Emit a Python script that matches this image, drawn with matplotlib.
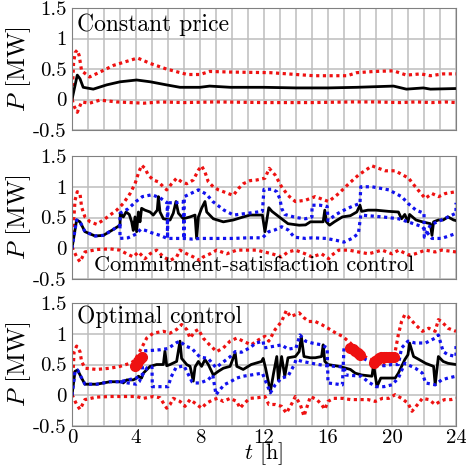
import matplotlib
matplotlib.use("Agg")
import matplotlib.pyplot as plt
import numpy as np

plt.rcParams['font.family'] = ['cmr10', 'DejaVu Serif']
plt.rcParams['mathtext.fontset'] = 'cm'
plt.rcParams['axes.unicode_minus'] = False

# ---- panel 1: constant price ----
t1_mean = [0, 0.33, 0.5, 0.7, 1.33, 2.17, 3.0, 4.04, 4.9, 5.9, 6.75, 8.0, 8.6, 9.9,
           12.0, 14.0, 16.0, 17.8, 20.1, 20.9, 21.96, 22.4, 24.0]
p1_mean = [0.0, 0.40, 0.34, 0.2, 0.17, 0.24, 0.29, 0.32, 0.29, 0.24, 0.2, 0.2, 0.22, 0.2,
           0.2, 0.19, 0.19, 0.2, 0.22, 0.17, 0.19, 0.17, 0.18]
t1_up = [0, 0.1, 0.2, 0.33, 0.45, 0.6, 1.1, 1.75, 2.6, 3.6, 4.1, 4.9, 5.9, 7.2, 8.0, 8.6, 9.9,
         12.4, 15.1, 17.2, 17.8, 18.9, 20.1, 20.9, 21.8, 22.4, 23.2, 24.0]
p1_up = [0.0, 0.6, 0.77, 0.81, 0.72, 0.47, 0.37, 0.45, 0.56, 0.64, 0.68, 0.59, 0.5, 0.41, 0.41,
         0.46, 0.45, 0.44, 0.39, 0.39, 0.44, 0.46, 0.47, 0.40, 0.42, 0.39, 0.42, 0.42]
t1_lo = [0, 0.15, 0.33, 0.6, 1.1, 1.75, 2.8, 4.5, 5.5, 7.0, 9.0, 12.0, 15.0, 17.5, 19.0,
         20.5, 21.5, 22.5, 23.3, 24.0]
p1_lo = [0.0, -0.12, -0.21, -0.04, -0.06, -0.01, -0.04, -0.06, -0.04, -0.05, -0.04, -0.05,
         -0.05, -0.04, -0.04, -0.05, -0.04, -0.05, -0.04, -0.05]

# ---- panel 2: commitment-satisfaction control ----
t2_mean = [0, 0.29, 0.5, 0.81, 1.44, 1.96, 2.48, 3.0, 3.02, 3.21, 3.38, 3.58, 3.73, 3.83,
           3.94, 4.04, 4.15, 4.25, 4.35, 4.56, 4.88, 5.08, 5.33, 5.4, 5.5, 5.71, 6.13, 6.33,
           6.5, 6.65, 6.96, 7.38, 7.69, 7.79, 7.9, 8.1, 8.31, 8.42, 8.83, 9.46, 10.08, 10.71,
           11.13, 11.9, 12.06, 12.3, 12.5, 12.8, 13.1, 13.5, 14.2, 14.6, 14.9, 15.2, 15.7,
           15.8, 15.9, 16.1, 16.4, 16.9, 17.4, 17.8, 18.0, 18.1, 18.5, 19.0, 19.8, 20.4,
           20.6, 20.8, 21.0, 21.1, 21.5, 21.9, 22.4, 22.5, 22.6, 22.9, 23.2, 23.5, 23.85, 24.0]
p2_mean = [0.0, 0.46, 0.43, 0.27, 0.2, 0.21, 0.29, 0.375, 0.57, 0.51, 0.59, 0.55, 0.43, 0.29,
           0.51, 0.27, 0.59, 0.43, 0.65, 0.62, 0.59, 0.54, 0.62, 0.84, 0.59, 0.48, 0.46, 0.57,
           0.76, 0.57, 0.48, 0.51, 0.54, 0.16, 0.51, 0.65, 0.76, 0.59, 0.48, 0.43, 0.46, 0.51,
           0.54, 0.54, 0.27, 0.66, 0.6, 0.54, 0.48, 0.4, 0.375, 0.38, 0.43, 0.43, 0.43,
           0.62, 0.43, 0.375, 0.43, 0.51, 0.53, 0.59, 0.7, 0.6, 0.62, 0.62, 0.6, 0.59,
           0.48, 0.55, 0.43, 0.55, 0.46, 0.43, 0.4, 0.21, 0.43, 0.46, 0.46, 0.51, 0.46, 0.45]
t2_up = [0, 0.19, 0.33, 0.5, 0.6, 0.81, 1.13, 1.54, 1.96, 2.38, 2.79, 3.21, 3.63, 3.94, 4.15,
         4.35, 4.56, 4.77, 5.08, 5.4, 5.71, 5.92, 6.23, 6.54, 6.85, 7.17, 7.58, 7.9, 8.1, 8.31,
         8.52, 8.83, 9.15, 9.46, 9.77, 10.08, 10.4, 10.71, 11.13, 11.54, 12.06, 12.33, 12.7,
         13.1, 13.5, 13.96, 14.58, 15.2, 16.04, 16.67, 17.3, 17.9, 18.75, 19.58, 20.2, 21.04,
         21.46, 22.08, 22.5, 22.92, 23.33, 24.0]
p2_up = [0.02, 0.78, 0.92, 0.89, 0.67, 0.51, 0.43, 0.39, 0.46, 0.54, 0.62, 0.73, 0.89, 1.05,
         1.22, 1.35, 1.3, 1.19, 1.11, 1.08, 1.0, 0.95, 1.05, 1.14, 1.08, 1.05, 1.11, 1.27, 1.34,
         1.24, 1.08, 1.0, 0.95, 0.92, 0.89, 0.86, 0.97, 1.05, 1.1, 1.11, 1.14, 1.3, 1.19, 1.0,
         0.86, 0.76, 0.78, 0.84, 0.76, 0.89, 1.05, 1.19, 1.34, 1.26, 1.26, 1.14, 1.0, 0.81,
         0.89, 0.84, 0.89, 0.92]
t2_lo = [0, 0.29, 0.5, 0.81, 1.54, 2.38, 3.0, 3.42, 3.83, 4.15, 4.56, 4.88, 5.29, 5.71, 6.13,
         6.54, 6.75, 7.17, 7.58, 8.0, 8.21, 8.63, 9.04, 9.67, 10.3, 10.9, 11.54, 12.5, 13.1,
         13.5, 13.96, 14.58, 15.0, 15.6, 16.04, 16.25, 16.67, 17.3, 17.9, 18.54, 18.96, 19.38,
         20.0, 20.42, 21.04, 21.46, 22.08, 22.7, 23.1, 23.75, 24.0]
p2_lo = [0.02, -0.14, -0.22, -0.06, -0.02, -0.01, -0.03, -0.09, -0.14, -0.06, -0.17, -0.09,
         -0.03, -0.14, -0.2, -0.14, -0.03, -0.09, -0.14, -0.2, -0.14, -0.09, -0.03, -0.09,
         -0.03, -0.03, -0.03, -0.09, -0.14, -0.06, -0.03, -0.09, -0.14, -0.09, -0.17, -0.11,
         -0.03, -0.03, -0.06, -0.09, -0.06, -0.03, -0.09, -0.03, -0.11, -0.09, -0.03, -0.06,
         -0.03, -0.05, -0.06]
t2_bA = [0, 0.29, 0.5, 0.81, 1.44, 1.96, 2.48, 3.0, 3.0, 3.5, 4.0, 4.4, 5.0, 5.5, 5.95, 5.97,
         6.0, 6.5, 6.95, 7.0, 7.02, 7.5, 7.9, 8.4, 8.8, 9.5, 10.1, 11.0, 11.9, 12.0, 12.5, 12.8,
         13.0, 13.1, 13.3, 14.0, 14.6, 15.0, 15.0, 15.5, 15.95, 16.0, 16.5, 17.0, 17.5, 18.0,
         18.05, 18.75, 19.8, 20.6, 21.0, 21.5, 22.0, 22.02, 22.4, 23.1, 24.0, 24.0]
p2_bA = [0.0, 0.46, 0.43, 0.27, 0.2, 0.21, 0.29, 0.375, 0.57, 0.64, 0.76, 0.84, 0.87, 0.82,
         0.74, 0.16, 0.74, 0.74, 0.76, 0.16, 0.84, 0.9, 0.95, 0.88, 0.76, 0.62, 0.54, 0.57,
         0.6, 0.96, 0.96, 0.92, 0.8, 0.65, 0.55, 0.5, 0.48, 0.51, 0.7, 0.7, 0.68, 0.45, 0.55,
         0.62, 0.68, 0.73, 1.0, 1.0, 0.95, 0.84, 0.73, 0.62, 0.57, 0.18, 0.38, 0.46, 0.57, 0.74]
t2_bB = [3.0, 3.0, 3.5, 4.0, 4.3, 4.6, 5.0, 5.5, 5.95, 6.5, 7.0, 7.5, 8.0, 9.0, 10.1, 10.1,
         11.0, 11.9, 11.9, 12.3, 12.7, 13.1, 13.5, 13.9, 14.6, 15.0, 15.9, 16.5, 17.0, 17.5,
         17.9, 18.05, 19.4, 20.4, 21.0, 21.9, 22.5, 23.1, 24.0]
p2_bB = [0.375, 0.16, 0.17, 0.23, 0.31, 0.29, 0.25, 0.21, 0.16, 0.16, 0.16, 0.15, 0.16, 0.16,
         0.16, 0.16, 0.17, 0.17, 0.17, 0.27, 0.3, 0.35, 0.3, 0.18, 0.16, 0.17, 0.16, 0.13,
         0.1, 0.16, 0.24, 0.54, 0.51, 0.48, 0.43, 0.35, 0.16, 0.16, 0.24]

# ---- panel 3: optimal control ----
t3_mean = [0, 0.19, 0.35, 0.6, 0.81, 1.54, 2.38, 3.1, 3.2, 3.42, 3.83, 4.04, 4.15, 4.35, 4.46,
           4.88, 5.29, 5.71, 5.81, 5.92, 6.13, 6.54, 6.75, 6.85, 7.17, 7.38, 7.58, 7.69, 7.9,
           8.1, 8.31, 8.52, 8.83, 9.15, 9.46, 9.88, 10.2, 10.3, 10.7, 11.2, 11.85, 11.95, 12.1,
           12.4, 12.6, 12.8, 12.9, 13.1, 13.3, 13.5, 13.96, 14.2, 14.33, 14.5, 14.9, 15.2,
           15.6, 15.7, 15.8, 16.0, 16.7, 17.4, 17.7, 18.1, 18.75, 18.85, 19.06, 19.3, 19.8,
           20.2, 20.4, 20.8, 21.0, 21.1, 21.35, 21.7, 22.1, 22.6, 22.7, 22.9, 23.2, 23.5, 24.0]
p3_mean = [0.0, 0.39, 0.41, 0.28, 0.18, 0.18, 0.22, 0.22, 0.2, 0.25, 0.25, 0.28, 0.31, 0.28,
           0.36, 0.47, 0.5, 0.5, 0.72, 0.48, 0.5, 0.55, 0.88, 0.6, 0.5, 0.47, 0.23, 0.46, 0.55,
           0.47, 0.58, 0.5, 0.33, 0.39, 0.44, 0.47, 0.69, 0.47, 0.42, 0.5, 0.55, 0.6, 0.44,
           0.06, 0.36, 0.63, 0.25, 0.63, 0.31, 0.61, 0.63, 0.71, 0.96, 0.63, 0.61, 0.61, 0.63,
           0.82, 0.55, 0.5, 0.47, 0.42, 0.36, 0.33, 0.31, 0.5, 0.14, 0.28, 0.28, 0.28, 0.36,
           0.58, 0.66, 0.85, 0.63, 0.58, 0.52, 0.47, 0.17, 0.63, 0.55, 0.52, 0.5]
t3_up = [0, 0.13, 0.29, 0.5, 0.6, 0.81, 1.54, 2.38, 3.0, 3.63, 3.83, 4.0, 4.35, 4.67, 5.08,
         5.71, 6.13, 6.54, 6.85, 7.17, 7.38, 7.69, 7.9, 8.2, 8.6, 9.04, 9.46, 9.88, 10.3, 10.7,
         11.2, 11.65, 12.06, 12.3, 12.7, 13.1, 13.4, 13.65, 13.96, 14.2, 14.5, 14.8, 15.2,
         15.6, 16.0, 16.5, 16.9, 17.4, 17.9, 18.5, 18.96, 19.4, 19.8, 20.2, 20.4, 20.6, 20.8,
         21.0, 21.46, 21.9, 22.3, 22.7, 22.9, 23.1, 23.5, 24.0]
p3_up = [0.01, 0.71, 0.8, 0.71, 0.55, 0.44, 0.42, 0.44, 0.47, 0.52, 0.55, 0.6, 0.77, 0.93,
         1.01, 1.04, 1.01, 1.07, 1.15, 1.07, 0.93, 1.04, 1.07, 0.93, 0.82, 0.71, 0.77, 0.88,
         0.93, 0.88, 0.82, 0.9, 0.96, 0.88, 1.07, 1.2, 1.38, 1.28, 1.31, 1.34, 1.26, 1.2, 1.2,
         1.15, 1.09, 1.01, 0.96, 0.85, 0.69, 0.6, 0.55, 0.5, 0.55, 0.71, 0.99, 1.2, 1.31,
         1.28, 1.15, 1.04, 1.09, 1.04, 1.23, 1.2, 1.09, 1.04]
t3_lo = [0, 0.29, 0.5, 0.81, 1.54, 2.38, 3.2, 4.04, 4.46, 5.08, 5.5, 5.92, 6.13, 6.33, 6.75,
         7.06, 7.38, 7.8, 8.1, 8.4, 8.83, 9.1, 9.46, 9.88, 10.3, 10.5, 10.7, 11.1, 11.6, 12.06,
         12.3, 12.7, 13.1, 13.4, 13.75, 13.96, 14.27, 14.5, 14.7, 14.9, 15.3, 15.6, 15.8,
         16.0, 16.35, 16.9, 17.4, 17.9, 18.5, 18.96, 19.4, 19.8, 20.2, 20.6, 21.0, 21.25,
         21.6, 21.9, 22.3, 22.7, 23.0, 23.3, 23.7, 24.0]
p3_lo = [0.01, -0.15, -0.23, -0.07, -0.03, -0.02, -0.02, -0.02, -0.05, -0.02, -0.04, -0.21,
         -0.15, -0.05, -0.1, -0.18, -0.07, -0.15, -0.21, -0.13, -0.07, -0.05, -0.1, -0.05,
         -0.1, -0.21, -0.15, -0.05, -0.04, -0.02, -0.15, -0.15, -0.18, -0.29, -0.13, -0.02,
         -0.15, -0.34, -0.18, -0.02, -0.07, -0.15, -0.23, -0.1, -0.05, -0.05, -0.07, -0.07,
         -0.07, -0.1, -0.05, -0.05, 0.01, -0.05, -0.13, -0.26, -0.15, -0.05, -0.07, -0.15,
         -0.1, -0.07, -0.07, -0.05]
t3_bA = [0, 0.19, 0.35, 0.6, 0.81, 1.54, 2.38, 3.0, 3.5, 4.0, 4.4, 4.4, 5.0, 5.5, 6.0, 6.5,
         6.75, 7.1, 7.5, 7.7, 8.0, 8.5, 9.0, 9.5, 9.9, 10.2, 10.6, 11.1, 11.5, 11.95, 12.0,
         12.7, 13.1, 13.5, 14.0, 14.25, 14.6, 15.0, 15.6, 15.95, 16.0, 16.9, 17.0, 17.4, 17.8,
         18.2, 18.6, 19.0, 19.5, 20.0, 20.4, 20.6, 21.0, 21.46, 22.1, 22.7, 22.9, 23.2, 23.5,
         24.0, 24.0]
p3_bA = [0.0, 0.39, 0.41, 0.28, 0.18, 0.18, 0.22, 0.22, 0.25, 0.28, 0.33, 0.72, 0.73, 0.74,
         0.76, 0.85, 0.88, 0.8, 0.76, 0.7, 0.62, 0.6, 0.45, 0.55, 0.63, 0.71, 0.7, 0.77, 0.85,
         0.88, 0.77, 0.8, 0.82, 0.75, 0.77, 0.98, 0.88, 0.85, 0.82, 0.77, 0.2, 0.17, 0.77,
         0.76, 0.66, 0.6, 0.55, 0.5, 0.48, 0.5, 0.5, 0.77, 0.88, 0.85, 0.85, 0.93, 0.98, 0.71,
         0.66, 0.63, 0.8]
t3_bB = [3.0, 3.5, 4.0, 4.2, 4.4, 4.7, 5.0, 5.02, 5.5, 6.0, 6.2, 6.5, 7.0, 7.5, 7.7, 8.0,
         8.5, 8.8, 9.0, 9.5, 9.9, 10.3, 10.7, 11.2, 11.9, 12.1, 12.4, 12.7, 13.1, 13.5, 13.9,
         14.0, 14.4, 15.0, 15.4, 15.9, 16.5, 17.0, 17.1, 18.1, 18.5, 19.0, 19.5, 20.0, 20.4,
         20.8, 21.46, 21.9, 22.1, 22.7, 23.1, 23.5, 24.0]
p3_bB = [0.22, 0.2, 0.18, 0.22, 0.33, 0.45, 0.46, 0.14, 0.14, 0.14, 0.3, 0.45, 0.48, 0.22,
         0.2, 0.2, 0.25, 0.33, 0.01, 0.17, 0.22, 0.28, 0.31, 0.33, 0.36, 0.23, 0.04, 0.17,
         0.28, 0.31, 0.5, 0.58, 0.55, 0.52, 0.5, 0.48, 0.47, 0.46, 0.33, 0.31, 0.22, 0.14,
         0.14, 0.17, 0.28, 0.52, 0.44, 0.36, 0.2, 0.17, 0.25, 0.28, 0.31]
# saturated points (thick red)
t3_sat = [3.94, 4.05, 4.15, 4.25, 4.35, 17.4, 17.55, 17.7, 17.85, 18.0,
          18.85, 18.95, 19.06, 19.2, 19.3, 19.5, 19.65, 19.8, 19.95, 20.1]
p3_sat = [0.47, 0.51, 0.55, 0.59, 0.63, 0.77, 0.75, 0.72, 0.69, 0.66,
          0.52, 0.55, 0.58, 0.61, 0.63, 0.63, 0.62, 0.63, 0.62, 0.62]

yticks = [-0.5, 0, 0.5, 1, 1.5]
ytick_labels = ['-0.5', '0', '0.5', '1', '1.5']
xticks = [0, 4, 8, 12, 16, 20, 24]

fig = plt.figure(figsize=(4.66, 4.68), dpi=100)
boxes = [[0.1545, 0.7222, 0.824, 0.2607],
         [0.1545, 0.4038, 0.824, 0.2628],
         [0.1545, 0.0897, 0.824, 0.2628]]
axes = [fig.add_axes(b) for b in boxes]

dot = dict(linestyle=(0, (1, 1.1)), lw=2.3)

ax = axes[0]
ax.plot(t1_up, p1_up, color='#ee1111', **dot)
ax.plot(t1_lo, p1_lo, color='#ee1111', **dot)
ax.plot(t1_mean, p1_mean, color='black', lw=2)
ax.text(0.3, 1.22, 'Constant price', fontsize=17, va='center')

ax = axes[1]
ax.plot(t2_up, p2_up, color='#ee1111', **dot)
ax.plot(t2_lo, p2_lo, color='#ee1111', **dot)
ax.plot(t2_mean, p2_mean, color='black', lw=2)
ax.plot(t2_bA, p2_bA, color='#1111ee', **dot)
ax.plot(t2_bB, p2_bB, color='#1111ee', **dot)
ax.text(11.4, -0.27, 'Commitment-satisfaction control', fontsize=16, ha='center', va='center')

ax = axes[2]
ax.plot(t3_up, p3_up, color='#ee1111', **dot)
ax.plot(t3_lo, p3_lo, color='#ee1111', **dot)
ax.plot(t3_mean, p3_mean, color='black', lw=2)
ax.plot(t3_bA, p3_bA, color='#1111ee', **dot)
ax.plot(t3_bB, p3_bB, color='#1111ee', **dot)
ax.plot(t3_sat, p3_sat, 'o', color='#ee1111', ms=7, mec='#ee1111')
ax.text(0.3, 1.28, 'Optimal control', fontsize=17, va='center')

for i, ax in enumerate(axes):
    ax.set_xlim(0, 24)
    ax.set_ylim(-0.5, 1.5)
    ax.set_yticks(yticks)
    ax.set_yticklabels(ytick_labels)
    ax.set_xticks(xticks)
    ax.set_xticks(np.arange(0, 25, 1), minor=True)
    ax.grid(True, which='both', color='#bdbdbd', lw=1.1)
    ax.set_axisbelow(True)
    ax.tick_params(which='both', length=0, labelsize=15, pad=4)
    ax.tick_params(axis='x', pad=2)
    for s in ax.spines.values():
        s.set_color('#808080')
        s.set_linewidth(0.8)
    ax.set_ylabel('$P$ [MW]', fontsize=18, labelpad=0)
    if i < 2:
        ax.set_xticklabels([])
axes[2].set_xlabel('$t$ [h]', fontsize=16, labelpad=-5)

fig.savefig('out.png', dpi=100)
